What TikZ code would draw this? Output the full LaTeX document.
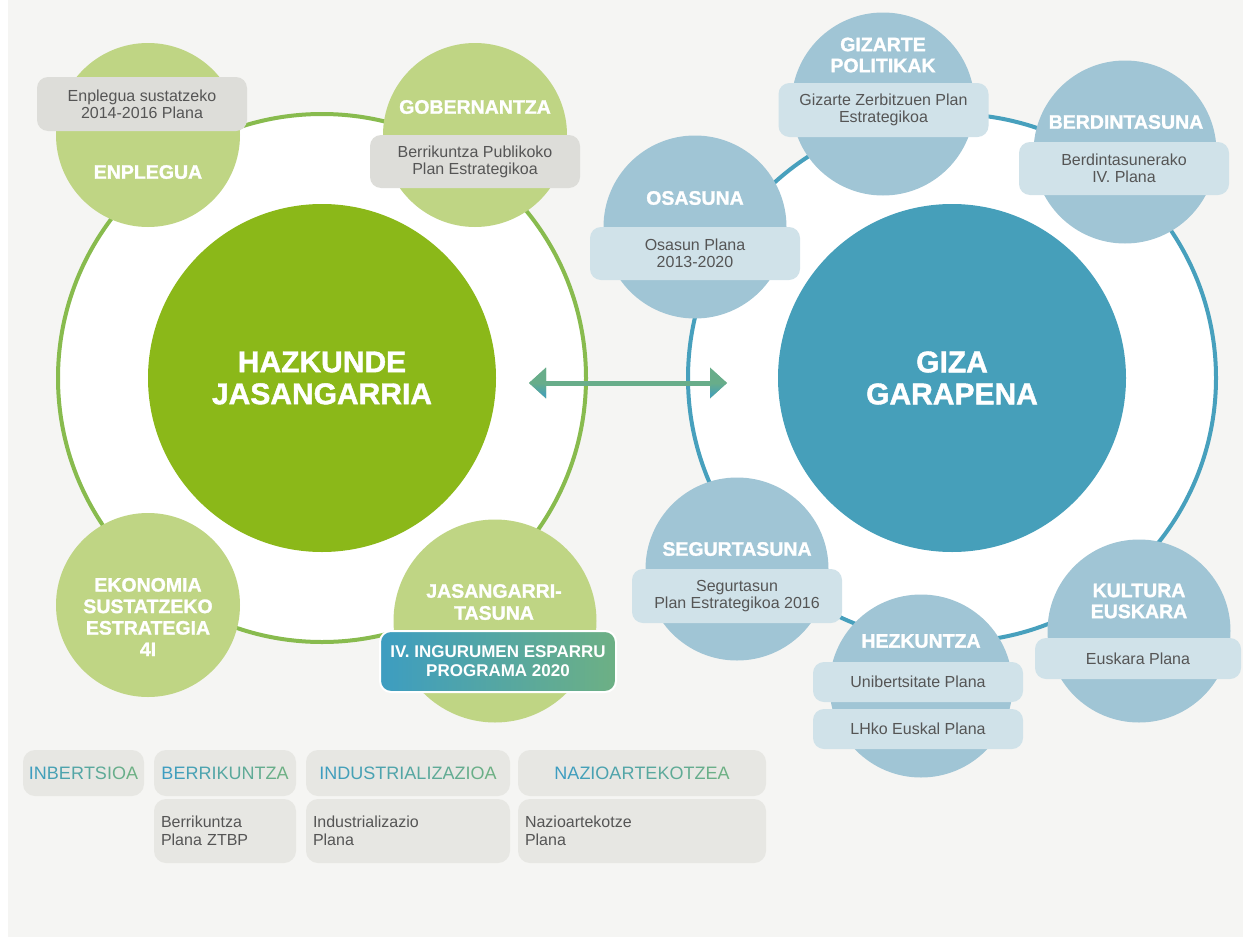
\documentclass[tikz,border=0pt]{standalone}
\usepackage{fontspec}
\setmainfont{Liberation Sans}
\newfontfamily\heavyfont[BoldFeatures={FakeBold=1.4}]{Liberation Sans}
\usetikzlibrary{arrows.meta}
\definecolor{bgc}{HTML}{F5F5F3}
\definecolor{ringg}{HTML}{88BB4E}
\definecolor{ringb}{HTML}{47A0BD}
\definecolor{bigg}{HTML}{8BB819}
\definecolor{bigb}{HTML}{469FBA}
\definecolor{smg}{HTML}{BFD584}
\definecolor{smb}{HTML}{A0C5D5}
\definecolor{gboxc}{HTML}{DDDDD9}
\definecolor{bboxc}{HTML}{D0E2E9}
\definecolor{boxc}{HTML}{E7E7E3}
\definecolor{txtc}{HTML}{555555}
\definecolor{hb}{HTML}{3D9DC1}
\definecolor{hg}{HTML}{6DB084}
\definecolor{arrc}{HTML}{68AD8A}
\ExplSyntaxOn
\int_new:N \l_grd_n_int
\int_new:N \l_grd_i_int
\tl_new:N \l_grd_p_tl
\NewDocumentCommand \gradtext { m }
  {
    \int_set:Nn \l_grd_n_int { \tl_count:n {#1} }
    \int_zero:N \l_grd_i_int
    \tl_map_inline:nn {#1}
      {
        \tl_set:Nx \l_grd_p_tl { \int_eval:n { 100 - (100 * \l_grd_i_int) / (\l_grd_n_int - 1) } }
        \textcolor{hb!\l_grd_p_tl!hg}{##1}
        \int_incr:N \l_grd_i_int
      }
  }
\ExplSyntaxOff
\begin{document}
\begin{tikzpicture}[x=1pt,y=-1pt,
  ring/.style={circle, minimum size=528pt, inner sep=0pt, line width=4pt, fill=white},
  bigc/.style={circle, minimum size=348pt, inner sep=0pt, text=white, align=center,
    font=\heavyfont\bfseries\fontsize{30}{32}\selectfont},
  gsm/.style={circle, fill=smg, minimum size=184pt, inner sep=0pt},
  bsm/.style={circle, fill=smb, minimum size=183pt, inner sep=0pt},
  lbl/.style={text=white, align=center, inner sep=0pt, font=\heavyfont\bfseries\fontsize{19.5}{21.5}\selectfont},
  gbox/.style={rounded corners=11pt, fill=gboxc, minimum width=210pt, minimum height=54pt, inner sep=0pt,
    text=txtc, align=center, font=\fontsize{16}{17}\selectfont},
  bbox/.style={gbox, fill=bboxc},
  hdr/.style={rounded corners=12pt, fill=boxc, minimum height=46pt, inner sep=0pt,
    font=\fontsize{18}{20}\selectfont},
  pbox/.style={rounded corners=12pt, fill=boxc, minimum height=64pt, inner xsep=7pt, inner ysep=0pt,
    text=txtc, align=left, font=\fontsize{16}{18}\selectfont},
  headshade/.style={top color=arrc, bottom color=hb, middle color=arrc},
]
\useasboundingbox (0,0) rectangle (1243,937);
\fill[bgc] (8,0) rectangle (1243,937);

% rings and main circles
\node[ring, draw=ringg] (lring) at (322,378) {};
\node[ring, draw=ringb] (rring) at (952,378) {};
\node[bigc, fill=bigg] (hazk) at (322,378) {HAZKUNDE\\JASANGARRIA};
\node[bigc, fill=bigb] (giza) at (952,378) {GIZA\\GARAPENA};

% arrow
\coordinate (al) at (529,383);
\coordinate (ar) at (727,383);
\draw[arrc, line width=5pt, {Triangle[width=30pt,length=17pt]}-{Triangle[width=30pt,length=17pt]}] (al) -- (ar);
\shade[headshade] (al) -- ([shift={(17,-15)}]al) -- ([shift={(17,15)}]al) -- cycle;
\shade[headshade] (ar) -- ([shift={(-17,-15)}]ar) -- ([shift={(-17,15)}]ar) -- cycle;
\fill[arrc] ([shift={(16,-2.5)}]al) rectangle ([shift={(-16,2.5)}]ar);

% green small circles
\node[gsm] (enc) at (148,135) {};
\node[gsm] (goc) at (475,135) {};
\node[gsm] (ekc) at (148,605) {};
\node[gsm, minimum size=203pt] (jac) at (495,621) {};

% blue small circles
\node[bsm] (gzc) at (883,104) {};
\node[bsm] (bec) at (1125,152) {};
\node[bsm] (osc) at (695,227) {};
\node[bsm] (sec) at (737,569) {};
\node[bsm] (hzc) at (921,686) {};
\node[bsm] (kuc) at (1139,631) {};

% boxes
\node[gbox] (enb) at (142,104) {Enplegua sustatzeko\\2014-2016 Plana};
\node[gbox, minimum height=53pt] (gob) at (475,161.5) {Berrikuntza Publikoko\\Plan Estrategikoa};
\node[bbox] (gzb) at (883.5,110) {Gizarte Zerbitzuen Plan\\Estrategikoa};
\node[bbox, minimum height=53pt] (beb) at (1124,168.5) {Berdintasunerako\\IV. Plana};
\node[bbox, minimum height=53pt] (osb) at (695,253.5) {Osasun Plana\\2013-2020};
\node[bbox] (seb) at (737,596) {Segurtasun\\Plan Estrategikoa 2016};
\node[bbox, minimum height=40pt] (hzb1) at (918,682) {Unibertsitate Plana};
\node[bbox, minimum height=40pt] (hzb2) at (918,729) {LHko Euskal Plana};
\node[bbox, minimum height=41pt, minimum width=206pt] (eub) at (1138,658.5) {Euskara Plana};
\node[rounded corners=11pt, left color=hb, right color=hg, draw=white, line width=2pt,
  minimum width=236pt, minimum height=61pt, inner sep=0pt, text=white, align=center,
  font=\bfseries\fontsize{17}{19}\selectfont] (jab) at (498,661.5) {IV. INGURUMEN ESPARRU\\PROGRAMA 2020};

% circle labels
\node[lbl] (enl) at (148,172) {ENPLEGUA};
\node[lbl] (gol) at (475,107) {GOBERNANTZA};
\node[lbl] (ekl) at (148,617) {EKONOMIA\\SUSTATZEKO\\ESTRATEGIA\\4I};
\node[lbl, font=\heavyfont\bfseries\fontsize{19.5}{22}\selectfont] (jal) at (494,602) {JASANGARRI-\\TASUNA};
\node[lbl, font=\heavyfont\bfseries\fontsize{19.5}{21}\selectfont] (gzl) at (883,55) {GIZARTE\\POLITIKAK};
\node[lbl] (bel) at (1126,122) {BERDINTASUNA};
\node[lbl] (osl) at (695,198) {OSASUNA};
\node[lbl] (sel) at (737,549) {SEGURTASUNA};
\node[lbl] (hzl) at (921,641) {HEZKUNTZA};
\node[lbl, font=\heavyfont\bfseries\fontsize{19.5}{21}\selectfont] (kul) at (1139,601) {KULTURA\\EUSKARA};

% bottom table
\node[hdr, minimum width=121pt] (h1) at (83.5,773) {\gradtext{INBERTSIOA}};
\node[hdr, minimum width=142pt] (h2) at (225,773) {\gradtext{BERRIKUNTZA}};
\node[hdr, minimum width=204pt] (h3) at (408,773) {\gradtext{INDUSTRIALIZAZIOA}};
\node[hdr, minimum width=248pt] (h4) at (642,773) {\gradtext{NAZIOARTEKOTZEA}};
\node[pbox, text width=128pt] (p2) at (225,831) {Berrikuntza\\Plana ZTBP};
\node[pbox, text width=190pt] (p3) at (408,831) {Industrializazio\\Plana};
\node[pbox, text width=234pt] (p4) at (642,831) {Nazioartekotze\\Plana};
\end{tikzpicture}
\end{document}
